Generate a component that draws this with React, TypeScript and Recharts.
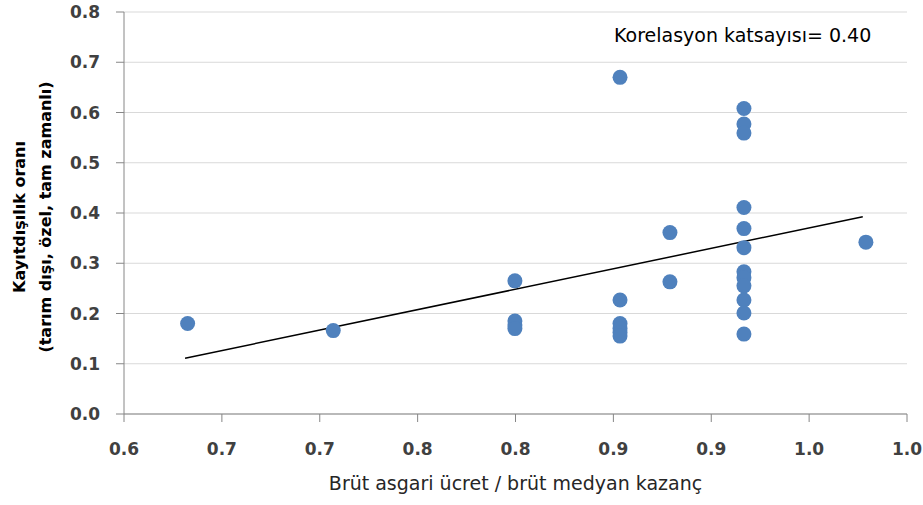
import {
  ScatterChart,
  Scatter,
  XAxis,
  YAxis,
  CartesianGrid,
  ReferenceLine,
} from 'recharts';

// x: brüt asgari ücret / brüt medyan kazanç, y: kayıtdışılık oranı
const ratioX = [
  0.6325, 0.7069,
  0.7997, 0.7997, 0.7997, 0.7997,
  0.8534, 0.8534, 0.8534, 0.8534, 0.8534, 0.8534,
  0.8789, 0.8789,
  0.9167, 0.9167, 0.9167, 0.9167, 0.9167, 0.9167, 0.9167, 0.9167, 0.9167, 0.9167, 0.9167, 0.9167,
  0.979,
];
const informalY = [
  0.18, 0.166,
  0.265, 0.185, 0.177, 0.17,
  0.67, 0.227, 0.18, 0.17, 0.162, 0.155,
  0.361, 0.263,
  0.608, 0.577, 0.559, 0.411, 0.369, 0.331, 0.283, 0.271, 0.255, 0.227, 0.201, 0.159,
  0.342,
];

// trend line endpoints
const trendX = [0.6312, 0.9774];
const trendY = [0.111, 0.3926];

const yTicks = [0, 0.1, 0.2, 0.3, 0.4, 0.5, 0.6, 0.7, 0.8];
const xTicks = [0.6, 0.65, 0.7, 0.75, 0.8, 0.85, 0.9, 0.95, 1.0];
const xTickLabels = ['0.6', '0.7', '0.7', '0.8', '0.8', '0.9', '0.9', '1.0', '1.0'];

const points = ratioX.map((x, i) => ({ x, y: informalY[i] }));

const FONT = '"DejaVu Sans", Verdana, sans-serif';
const AXIS = '#868686';
const TEXT = '#404040';

function Dot(props: any) {
  const { cx, cy } = props;
  return <circle cx={cx} cy={cy} r={7.5} fill="#4F81BD" />;
}

export default function App() {
  return (
    <div style={{ position: 'absolute', left: 0, top: 0, width: 923, height: 505, background: '#fff' }}>
      <ScatterChart width={923} height={505} margin={{ top: 12, right: 16, left: 0, bottom: 0 }}>
        <CartesianGrid vertical={false} stroke="#d9d9d9" />
        <XAxis
          type="number"
          dataKey="x"
          domain={[0.6, 1.0]}
          ticks={xTicks}
          allowDataOverflow
          height={91}
          stroke={AXIS}
          tickSize={8}
          tickMargin={21}
          tick={{ fill: TEXT, fontSize: 17, fontWeight: 'bold', fontFamily: FONT }}
          tickFormatter={(v: number) => xTickLabels[xTicks.findIndex((t) => Math.abs(t - v) < 1e-6)] ?? ''}
          label={{
            content: (p: any) => {
              const vb = p.viewBox;
              return (
                <text
                  x={vb.x + vb.width / 2}
                  y={490}
                  textAnchor="middle"
                  fill="#262626"
                  fontSize={19}
                  fontFamily={FONT}
                >
                  Brüt asgari ücret / brüt medyan kazanç
                </text>
              );
            },
          }}
        />
        <YAxis
          type="number"
          dataKey="y"
          domain={[0, 0.8]}
          ticks={yTicks}
          width={124}
          stroke={AXIS}
          tickSize={8}
          tickMargin={16}
          tick={{ fill: TEXT, fontSize: 17, fontWeight: 'bold', fontFamily: FONT }}
          tickFormatter={(v: number) => v.toFixed(1)}
          label={{
            content: (p: any) => {
              const cy = p.viewBox.y + p.viewBox.height / 2 + 4;
              return (
                <g fill="#000" fontSize={16} fontWeight="bold" fontFamily={FONT} textAnchor="middle">
                  <text x={25} y={cy} transform={`rotate(-90, 25, ${cy})`}>
                    Kayıtdışılık oranı
                  </text>
                  <text x={51} y={cy} transform={`rotate(-90, 51, ${cy})`}>
                    (tarım dışı, özel, tam zamanlı)
                  </text>
                </g>
              );
            },
          }}
        />
        <Scatter data={points} shape={Dot} isAnimationActive={false} />
        <ReferenceLine
          segment={[
            { x: trendX[0], y: trendY[0] },
            { x: trendX[1], y: trendY[1] },
          ]}
          stroke="#000"
          strokeWidth={1.5}
        />
      </ScatterChart>
      <div
        style={{
          position: 'absolute',
          left: 614,
          top: 23,
          fontFamily: FONT,
          fontSize: 19,
          color: '#000',
          whiteSpace: 'nowrap',
          lineHeight: '24px',
        }}
      >
        Korelasyon katsayısı= 0.40
      </div>
    </div>
  );
}
